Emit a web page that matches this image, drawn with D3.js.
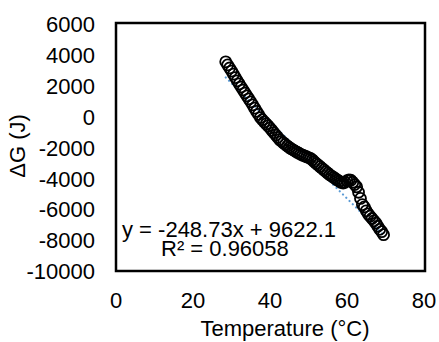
<!DOCTYPE html>
<html>
<head>
<meta charset="utf-8">
<script src="https://cdn.jsdelivr.net/npm/d3@7"></script>
<style>
  body { margin: 0; background: #fff; }
  text { font-family: "Liberation Sans", Arial, sans-serif; fill: #000; }
</style>
</head>
<body>
<div id="chart"></div>
<script>
const temps = [28.5, 29.0, 29.5, 30.0, 30.5, 31.0, 31.5, 32.0, 32.5, 33.0, 33.5, 34.0, 34.5, 35.0,
  35.5, 36.0, 36.5, 37.0, 37.5, 38.0, 38.5, 39.0, 39.5, 40.0, 40.5, 41.0, 41.5, 42.0, 42.5, 43.0,
  43.5, 44.0, 44.5, 45.0, 45.5, 46.0, 46.5, 47.0, 47.5, 48.0, 48.5, 49.0, 49.5, 50.0, 50.5, 51.0,
  51.5, 52.0, 52.5, 53.0, 53.5, 54.0, 54.5, 55.0, 55.5, 56.0, 56.5, 57.0, 57.5, 58.0, 58.5, 59.0,
  59.5, 60.0, 60.5, 61.0, 61.5, 62.0, 62.5, 63.0, 63.5, 64.0, 64.5, 65.0, 65.5, 66.0, 66.5, 67.0,
  67.5, 68.0, 68.5, 69.0, 69.5];
const deltaG = [3550, 3350, 3150, 2950, 2750, 2530, 2320, 2120, 1920, 1725, 1530, 1340, 1150, 960,
  760, 550, 340, 150, -60, -200, -340, -470, -600, -740, -890, -1040, -1190, -1340, -1490, -1600,
  -1700, -1800, -1900, -2000, -2080, -2150, -2230, -2300, -2370, -2440, -2500, -2550, -2600, -2650, -2700, -2800,
  -2920, -3030, -3130, -3240, -3350, -3450, -3560, -3660, -3760, -3850, -3930, -4020, -4100, -4180, -4260, -4300,
  -4250, -4150, -4100, -4120, -4250, -4400, -4550, -4900, -5300, -5700, -5850, -6100, -6300, -6450, -6600, -6750,
  -6900, -7100, -7300, -7450, -7650];

// Linear trendline shown on the chart
const slope = -248.73;
const intercept = 9622.1;
const eqLabel = "y = -248.73x + 9622.1";
const r2Label = "R² = 0.96058";

const xTicks = [0, 20, 40, 60, 80];
const yTicks = [6000, 4000, 2000, 0, -2000, -4000, -6000, -8000, -10000];

const width = 439;
const height = 342;

const svg = d3.select("#chart").append("svg")
  .attr("width", width)
  .attr("height", height);

const x = d3.scaleLinear().domain([0, 80]).range([116, 424]);
const y = d3.scaleLinear().domain([-10000, 6000]).range([271, 24]);

const data = temps.map((t, i) => ({ t: t, g: deltaG[i] }));

// Y tick labels
svg.append("g")
  .selectAll("text")
  .data(yTicks)
  .join("text")
  .attr("x", 95)
  .attr("y", d => y(d))
  .attr("dy", "0.37em")
  .attr("text-anchor", "end")
  .style("font-size", "22px")
  .text(d => d);

// X tick labels
svg.append("g")
  .selectAll("text")
  .data(xTicks)
  .join("text")
  .attr("x", d => x(d))
  .attr("y", 308)
  .attr("text-anchor", "middle")
  .style("font-size", "22px")
  .text(d => d);

// Axis titles
svg.append("text")
  .attr("x", 285)
  .attr("y", 336)
  .attr("text-anchor", "middle")
  .style("font-size", "22px")
  .text("Temperature (°C)");

svg.append("text")
  .attr("transform", "translate(25,146) rotate(-90)")
  .attr("text-anchor", "middle")
  .style("font-size", "22px")
  .text("ΔG (J)");

// Dotted trendline over the data range
const tExt = d3.extent(temps);
svg.append("line")
  .attr("x1", x(tExt[0]))
  .attr("y1", y(slope * tExt[0] + intercept))
  .attr("x2", x(tExt[1]))
  .attr("y2", y(slope * tExt[1] + intercept))
  .attr("stroke", "#5b9bd5")
  .attr("stroke-width", 2.2)
  .attr("stroke-linecap", "round")
  .attr("stroke-dasharray", "0.1,4.5");

// Data circles
svg.append("g")
  .selectAll("circle")
  .data(data)
  .join("circle")
  .attr("cx", d => x(d.t))
  .attr("cy", d => y(d.g))
  .attr("r", 5.5)
  .attr("fill", "none")
  .attr("stroke", "#000")
  .attr("stroke-width", 1.8);

// Equation labels
svg.append("text")
  .attr("x", 122)
  .attr("y", 237)
  .style("font-size", "22px")
  .text(eqLabel);

svg.append("text")
  .attr("x", 161)
  .attr("y", 256)
  .style("font-size", "22px")
  .text(r2Label);

// Plot frame
svg.append("rect")
  .attr("x", 116)
  .attr("y", 23)
  .attr("width", 309)
  .attr("height", 248)
  .attr("fill", "none")
  .attr("stroke", "#000")
  .attr("stroke-width", 2.5);
</script>
</body>
</html>
